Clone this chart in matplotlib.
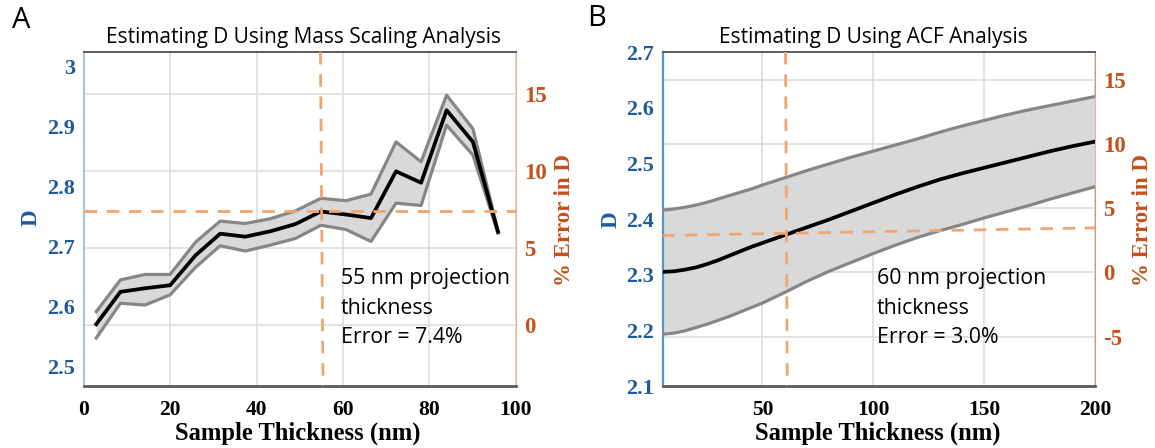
import matplotlib
matplotlib.use("Agg")
import matplotlib.pyplot as plt

plt.rcParams['lines.scale_dashes'] = False

# ---------------- data ----------------
# Panel A: mass scaling analysis
thick_a = [2.9, 8.5, 14.2, 20.0, 25.9, 31.6, 37.4, 43.2, 49.0, 54.9,
           60.7, 66.5, 72.3, 78.1, 84.0, 90.1, 95.9]
d_mean_a = [2.571, 2.625, 2.631, 2.636, 2.686, 2.722, 2.717, 2.726, 2.738, 2.759,
            2.754, 2.748, 2.826, 2.807, 2.928, 2.875, 2.725]
d_upper_a = [2.592, 2.645, 2.654, 2.654, 2.708, 2.743, 2.739, 2.747, 2.760, 2.781,
             2.777, 2.788, 2.875, 2.842, 2.953, 2.897, 2.727]
d_lower_a = [2.548, 2.606, 2.603, 2.620, 2.666, 2.702, 2.693, 2.703, 2.714, 2.736,
             2.729, 2.709, 2.773, 2.769, 2.903, 2.853, 2.723]
d_true_a = 2.57
proj_a = 55          # nm
err_a = 7.4          # %

# Panel B: ACF analysis
thick_b = [5, 10, 15, 20, 25, 30, 35, 40, 45, 50, 60, 70, 80, 90, 100,
           110, 120, 130, 140, 150, 160, 170, 180, 190, 200]
d_mean_b = [2.305, 2.306, 2.309, 2.313, 2.319, 2.326, 2.334, 2.342, 2.350, 2.357,
            2.371, 2.385, 2.399, 2.414, 2.429, 2.444, 2.458, 2.471, 2.482, 2.492,
            2.502, 2.512, 2.522, 2.531, 2.539]
d_upper_b = [2.416, 2.418, 2.421, 2.425, 2.430, 2.436, 2.442, 2.448, 2.454, 2.461,
             2.474, 2.487, 2.499, 2.511, 2.522, 2.533, 2.544, 2.556, 2.567, 2.577,
             2.587, 2.596, 2.604, 2.612, 2.620]
d_lower_b = [2.193, 2.195, 2.199, 2.205, 2.211, 2.218, 2.225, 2.233, 2.241, 2.249,
             2.268, 2.288, 2.306, 2.322, 2.338, 2.353, 2.367, 2.379, 2.390, 2.402,
             2.413, 2.424, 2.436, 2.447, 2.458]
d_true_b = 2.304
proj_b = 60          # nm
err_b = 3.0          # %
err_guide_b = [2.88, 3.48]   # slightly tilted guide across panel B

# ---------------- styling ----------------
W, H = 1155, 448
BLUE = '#1F5A9E'
ORANGE = '#C4501A'
DASH = '#F0A46F'
BAND = '#D9D9D9'
BAND_EDGE = '#868686'
GRID = '#DEDEDE'
SERIF = dict(family='Liberation Serif', weight='bold')
SANS = 'Open Sans'

fig = plt.figure(figsize=(W / 100, H / 100), dpi=100)


def fx(px):
    return px / W


def fy(py):
    return 1 - py / H


def panel(left_px, right_px, x, mean, upper, lower, d_true, xlim, ylim,
          xticks, yticks, ylabels, eticks, left_col, right_col):
    top_px, bot_px = 52, 386
    rect = [fx(left_px), fy(bot_px), (right_px - left_px) / W, (bot_px - top_px) / H]
    ax = fig.add_axes(rect)
    ax2 = ax.twinx()
    # error axis sits behind the D axis so its grid stays under the curves
    ax2.set_zorder(ax.get_zorder() - 1)
    ax.patch.set_visible(False)
    ax2.patch.set_facecolor('white')

    ax.set_xlim(*xlim)
    ax.set_ylim(*ylim)
    ax2.set_ylim((ylim[0] / d_true - 1) * 100, (ylim[1] / d_true - 1) * 100)

    ax.fill_between(x, lower, upper, color=BAND, lw=0, zorder=2)
    ax.plot(x, upper, color=BAND_EDGE, lw=2.3, zorder=3)
    ax.plot(x, lower, color=BAND_EDGE, lw=2.3, zorder=3)
    ax.plot(x, mean, color='black', lw=2.7, zorder=4)

    ax.set_xticks(xticks)
    ax.set_xticklabels([str(t) for t in xticks], fontsize=15.5, **SERIF)
    ax.set_yticks(yticks)
    ax.set_yticklabels(ylabels, fontsize=16, color=BLUE, **SERIF)
    ax2.set_yticks(eticks)
    ax2.set_yticklabels([str(t) for t in eticks], fontsize=16.5, color=ORANGE, **SERIF)
    ax.tick_params(axis='both', length=0)
    ax.tick_params(axis='x', pad=10)
    ax.tick_params(axis='y', pad=6)
    ax2.tick_params(axis='y', length=0, pad=6)

    ax.grid(axis='x', color=GRID, lw=1.2)
    ax.grid(axis='y', visible=False)
    ax2.grid(axis='y', color=GRID, lw=1.2)
    ax.set_axisbelow(True)

    for s in ('left', 'right', 'top', 'bottom'):
        ax2.spines[s].set_visible(False)
    ax2.spines['right'].set_visible(True)
    ax2.spines['right'].set_color(right_col)
    ax2.spines['right'].set_linewidth(1.2)
    ax.spines['right'].set_visible(False)
    ax.spines['left'].set_color(left_col)
    ax.spines['left'].set_linewidth(1.6)
    ax.spines['top'].set_color('#5A5A5A')
    ax.spines['top'].set_linewidth(1.4)
    ax.spines['bottom'].set_color('#5A5A5A')
    ax.spines['bottom'].set_linewidth(2.0)
    return ax, ax2


# ---------------- panel A ----------------
axA, axA2 = panel(83.7, 515.7, thick_a, d_mean_a, d_upper_a, d_lower_a, d_true_a,
                  (0, 100), (2.468, 3.025), [0, 20, 40, 60, 80, 100],
                  [2.5, 2.6, 2.7, 2.8, 2.9, 3.0], ['2.5', '2.6', '2.7', '2.8', '2.9', '3'],
                  [0, 5, 10, 15], '#AFC6DE', '#E8A67E')
axA.plot([0, 100], [err_a, err_a], transform=axA2.transData, color=DASH, lw=2.0,
         dashes=(9, 7), zorder=6)
axA.plot([proj_a - 0.2, proj_a + 0.4], [3.025, 2.468], color=DASH, lw=2.0,
         dashes=(9, 7), zorder=6)

# ---------------- panel B ----------------
axB, axB2 = panel(662.7, 1095.0, thick_b, d_mean_b, d_upper_b, d_lower_b, d_true_b,
                  (5, 200), (2.1, 2.7), [50, 100, 150, 200],
                  [2.1, 2.2, 2.3, 2.4, 2.5, 2.6, 2.7],
                  ['2.1', '2.2', '2.3', '2.4', '2.5', '2.6', '2.7'],
                  [-5, 0, 5, 10, 15], '#5B93C8', '#E0804A')
axB.plot([5, 200], err_guide_b, transform=axB2.transData, color=DASH, lw=2.0,
         dashes=(9, 7), zorder=6)
axB.plot([proj_b + 0.4, proj_b + 1.2], [2.7, 2.1], color=DASH, lw=2.0,
         dashes=(9, 7), zorder=6)

# ---------------- text ----------------
fig.text(fx(21), fy(20), 'A', fontsize=21, family=SANS, ha='center', va='center')
fig.text(fx(597), fy(19), 'B', fontsize=21, family=SANS, ha='center', va='center')

fig.text(fx(304), fy(37), 'Estimating D Using Mass Scaling Analysis', fontsize=15,
         family=SANS, ha='center', va='center')
fig.text(fx(873), fy(37), 'Estimating D Using ACF Analysis', fontsize=15,
         family=SANS, ha='center', va='center')

for cx in (298, 878):
    fig.text(fx(cx), fy(433), 'Sample Thickness (nm)', fontsize=17.7, ha='center',
             va='center', **SERIF)

fig.text(fx(31), fy(218), 'D', fontsize=16.5, color=BLUE, rotation=90,
         ha='center', va='center', **SERIF)
fig.text(fx(611), fy(220), 'D', fontsize=16.5, color=BLUE, rotation=90,
         ha='center', va='center', **SERIF)
fig.text(fx(564), fy(220), '% Error in D', fontsize=16.5, color=ORANGE, rotation=90,
         ha='center', va='center', **SERIF)
fig.text(fx(1143), fy(220), '% Error in D', fontsize=16.5, color=ORANGE, rotation=90,
         ha='center', va='center', **SERIF)

fig.text(fx(341), fy(308), f'{proj_a} nm projection\nthickness\nError = {err_a:.1f}%',
         fontsize=15.3, family=SANS, ha='left', va='center', linespacing=1.55)
fig.text(fx(877), fy(308), f'{proj_b} nm projection\nthickness\nError = {err_b:.1f}%',
         fontsize=15.3, family=SANS, ha='left', va='center', linespacing=1.55)

fig.savefig('out.png', dpi=100)
